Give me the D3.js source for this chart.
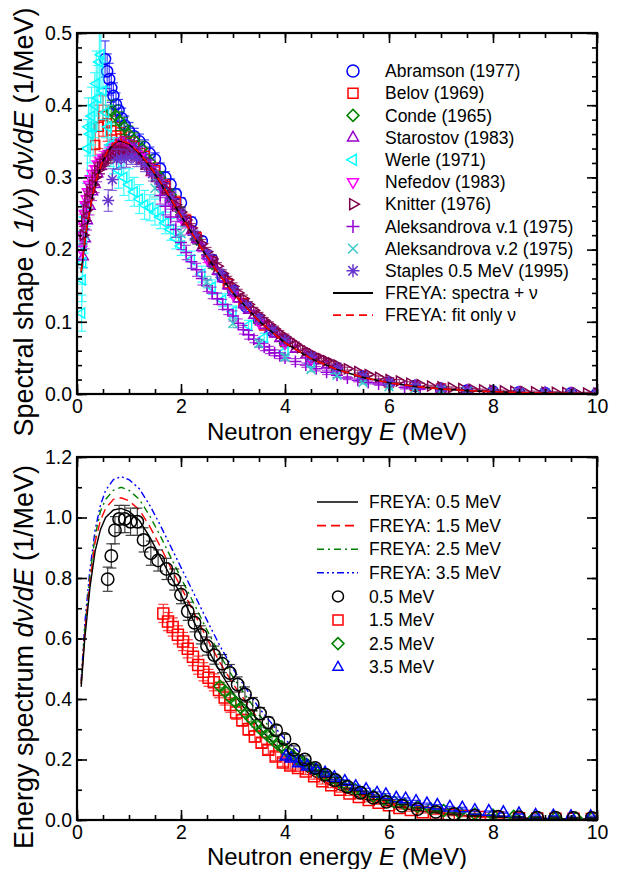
<!DOCTYPE html>
<html><head><meta charset="utf-8">
<script src="https://cdn.jsdelivr.net/npm/d3@7"></script>
<style>body{margin:0;background:#fff}svg{display:block}text{font-family:"Liberation Sans",Arial,sans-serif;fill:#000}</style>
</head><body><svg id="c" width="618" height="869"></svg>
<script>
// ---------------- DATA (top panel: spectral shape) ----------------
const curveE = [0.08,0.15,0.2,0.3,0.4,0.5,0.6,0.7,0.8,0.9,1.0,1.2,1.4,1.6,1.8,2.0,2.25,2.5,2.75,3.0,3.5,4.0,4.5,5.0,5.5,6.0,6.5,7.0,7.5,8.0,8.5,9.0,9.5,10.0];
const freyaSpectraNu = [0.168,0.21,0.235,0.275,0.303,0.323,0.337,0.346,0.350,0.349,0.346,0.333,0.315,0.293,0.270,0.247,0.218,0.190,0.164,0.140,0.101,0.071,0.049,0.034,0.023,0.0155,0.0105,0.007,0.0047,0.0031,0.0021,0.0014,0.0009,0.0006];
const freyaFitNu = [0.170,0.212,0.237,0.276,0.304,0.324,0.338,0.347,0.351,0.350,0.347,0.334,0.316,0.294,0.271,0.247,0.218,0.190,0.164,0.140,0.101,0.071,0.049,0.034,0.023,0.0155,0.0105,0.007,0.0047,0.0031,0.0021,0.0014,0.0009,0.0006];

// [E, value, error]
const abramson = [[0.54,.464,.025],[0.58,.447,.024],[0.62,.436,.022],[0.66,.424,.02],[0.70,.413,.018],[0.75,.401,.016],[0.80,.393,.015],[0.86,.382,.014],[0.92,.372,.013],[1.0,.364,.012],[1.1,.357,.011],[1.2,.350,.01],[1.3,.342,.01],[1.4,.333,.009],[1.5,.325,.009],[1.6,.312,.008],[1.7,.300,.008],[1.8,.290,.008],[1.9,.277,.007],[2.0,.265,.007],[2.2,.238,.007],[2.4,.212,.006],[2.6,.186,.006],[2.8,.162,.005],[3.0,.143,.005],[3.25,.121,.004],[3.5,.103,.004],[3.75,.087,.004],[4.0,.073,.003],[4.5,.051,.003],[5.0,.035,.002],[5.5,.024,.002],[6.0,.016,.002],[6.5,.011,.001],[7.0,.0075,.001],[7.5,.005,.001],[8.0,.0034,.001],[8.5,.0023,.001],[9.0,.0015,.001],[9.5,.001,.001],[10.0,.0007,.001]];
const belov = [[0.35,.345,.03],[0.42,.37,.03],[0.5,.385,.028],[0.58,.375,.025],[0.66,.365,.02],[0.75,.358,.018],[0.85,.354,.015],[0.95,.35,.013],[1.1,.344,.012],[1.3,.33,.01],[1.5,.31,.01],[1.7,.288,.009],[1.9,.266,.008],[2.1,.241,.008],[2.3,.217,.007],[2.6,.183,.006],[2.9,.153,.006],[3.2,.126,.005],[3.6,.095,.004],[4.0,.072,.004],[4.5,.05,.003],[5.0,.034,.003],[5.5,.023,.002],[6.0,.016,.002],[6.5,.011,.002],[7.0,.0075,.001]];
const conde = [[0.66,.392,.015],[0.74,.386,.014],[0.82,.378,.013],[0.9,.371,.012],[1.0,.36,.011],[1.1,.352,.01],[1.25,.34,.01],[1.4,.322,.009],[1.6,.3,.008],[1.8,.276,.008],[2.0,.252,.007],[2.3,.214,.006],[2.6,.18,.006],[3.0,.142,.005],[3.5,.1,.004],[4.0,.07,.003],[4.5,.048,.003],[5.0,.033,.002],[5.5,.022,.002],[6.0,.015,.002],[7.0,.0068,.001]];
const starostov = [[0.12,.19,.015],[0.16,.215,.014],[0.2,.24,.013],[0.25,.26,.012],[0.3,.28,.012],[0.35,.29,.011],[0.4,.305,.011],[0.45,.315,.01],[0.5,.322,.01],[0.6,.335,.01],[0.7,.342,.01],[0.8,.345,.01],[0.9,.346,.01],[1.0,.343,.009],[1.1,.339,.009],[1.2,.333,.009],[1.3,.325,.008],[1.4,.316,.008],[1.5,.306,.008],[1.6,.295,.008],[1.7,.284,.007],[1.8,.272,.007],[1.9,.260,.007],[2.0,.249,.007],[2.1,.237,.007],[2.2,.226,.006],[2.3,.214,.006],[2.4,.203,.006],[2.5,.192,.006],[2.6,.181,.006],[2.7,.170,.005],[2.8,.160,.005],[2.9,.150,.005],[3.0,.141,.005],[3.1,.132,.005],[3.2,.124,.005],[3.3,.116,.004],[3.4,.109,.004],[3.5,.102,.004],[3.6,.095,.004],[3.7,.089,.004],[3.8,.083,.004],[3.9,.077,.003],[4.0,.072,.003],[4.2,.062,.003],[4.4,.054,.003],[4.6,.046,.003],[4.8,.040,.003],[5.0,.035,.002],[5.5,.024,.002],[6.0,.016,.002],[6.5,.011,.002],[7.0,.0074,.001],[7.5,.005,.001],[8.0,.0034,.001],[8.5,.0023,.001],[9.0,.0016,.001],[9.5,.0011,.001],[10.0,.0008,.001]];
const werle = [[0.09,.112,.025],[0.10,.158,.03],[0.11,.182,.03],[0.12,.205,.03],[0.14,.225,.03],[0.16,.245,.03],[0.18,.262,.03],[0.2,.34,.04],[0.22,.37,.04],[0.25,.36,.04],[0.28,.385,.04],[0.31,.37,.04],[0.34,.40,.045],[0.37,.43,.045],[0.40,.41,.045],[0.43,.46,.045],[0.46,.47,.045],[0.5,.42,.04],[0.55,.39,.035],[0.6,.37,.03],[0.65,.345,.03],[0.7,.33,.025],[0.8,.31,.025],[0.9,.30,.025],[1.0,.29,.022],[1.1,.28,.02],[1.2,.27,.02],[1.3,.262,.02],[1.4,.258,.018],[1.5,.252,.018],[1.6,.245,.016],[1.7,.237,.015],[1.8,.228,.015],[1.9,.215,.014],[2.0,.205,.013],[2.2,.186,.012],[2.4,.166,.011],[2.6,.148,.01],[2.8,.13,.009],[3.0,.114,.008],[3.3,.095,.007],[3.6,.078,.006],[4.0,.059,.005],[4.5,.042,.004],[5.0,.029,.003],[5.5,.02,.003],[6.0,.013,.002]];
const nefedov = [[0.08,.2,.015],[0.1,.22,.015],[0.12,.235,.014],[0.14,.25,.014],[0.16,.262,.013],[0.18,.27,.013],[0.2,.28,.012],[0.23,.29,.012],[0.26,.298,.012],[0.3,.305,.011],[0.35,.312,.011],[0.4,.318,.01],[0.45,.322,.01],[0.5,.326,.01],[0.6,.333,.009],[0.7,.338,.009],[0.8,.34,.009],[0.9,.34,.009],[1.0,.338,.008],[1.2,.328,.008],[1.4,.31,.008],[1.6,.29,.007],[1.8,.267,.007],[2.0,.244,.006],[2.5,.187,.005],[3.0,.138,.004],[3.5,.099,.004],[4.0,.07,.003],[4.5,.048,.003],[5.0,.033,.002]];
const knitter = [[0.12,.22,.012],[0.15,.24,.012],[0.18,.255,.011],[0.21,.27,.011],[0.25,.28,.01],[0.3,.29,.01],[0.35,.3,.01],[0.4,.31,.01],[0.45,.315,.01],[0.5,.32,.009],[0.55,.325,.009],[0.6,.328,.009],[0.65,.33,.009],[0.7,.333,.009],[0.75,.335,.009],[0.8,.336,.009],[0.85,.337,.009],[0.9,.336,.009],[0.95,.335,.008],[1.0,.334,.008],[1.1,.331,.008],[1.2,.326,.008],[1.3,.319,.008],[1.4,.311,.008],[1.5,.302,.008],[1.6,.293,.007],[1.7,.284,.007],[1.8,.273,.007],[1.9,.262,.007],[2.0,.252,.007],[2.1,.241,.006],[2.2,.230,.006],[2.3,.219,.006],[2.4,.208,.006],[2.5,.197,.006],[2.6,.187,.006],[2.7,.177,.005],[2.8,.167,.005],[2.9,.158,.005],[3.0,.149,.005],[3.1,.140,.005],[3.2,.132,.005],[3.3,.124,.004],[3.4,.116,.004],[3.5,.109,.004],[3.6,.102,.004],[3.7,.096,.004],[3.8,.090,.004],[3.9,.084,.004],[4.0,.079,.004],[4.1,.074,.003],[4.2,.069,.003],[4.3,.064,.003],[4.4,.060,.003],[4.5,.056,.003],[4.6,.052,.003],[4.7,.049,.003],[4.8,.046,.003],[4.9,.043,.003],[5.0,.040,.003],[5.2,.035,.002],[5.4,.031,.002],[5.6,.027,.002],[5.8,.023,.002],[6.0,.020,.002],[6.2,.018,.002],[6.4,.015,.002],[6.6,.013,.002],[6.8,.011,.001],[7.0,.010,.001],[7.2,.0088,.001],[7.4,.0076,.001],[7.6,.0066,.001],[7.8,.0058,.001],[8.0,.0050,.001],[8.2,.0044,.001],[8.4,.0038,.001],[8.6,.0033,.001],[8.8,.0029,.001],[9.0,.0025,.001],[9.2,.0022,.001],[9.4,.0019,.001],[9.6,.0016,.001],[9.8,.0014,.001],[10.0,.0012,.001]];
const aleksandrova1 = [[1.6,.275,.012],[1.7,.26,.012],[1.8,.245,.011],[1.9,.228,.011],[2.0,.21,.01],[2.1,.196,.01],[2.2,.183,.009],[2.3,.172,.009],[2.4,.16,.009],[2.5,.15,.008],[2.6,.14,.008],[2.7,.132,.008],[2.8,.124,.007],[2.9,.117,.007],[3.0,.108,.007],[3.1,.098,.006],[3.2,.089,.006],[3.3,.082,.006],[3.4,.076,.005],[3.5,.07,.005],[3.6,.065,.005],[3.7,.061,.005],[3.8,.057,.004],[3.9,.053,.004],[4.0,.05,.004],[4.2,.045,.004],[4.4,.04,.003],[4.6,.035,.003],[4.8,.03,.003],[5.0,.026,.003],[5.2,.022,.002],[5.4,.019,.002],[5.6,.016,.002],[5.8,.014,.002],[6.0,.012,.002],[6.3,.009,.002],[6.6,.007,.001],[7.0,.005,.001],[7.5,.0035,.001],[8.0,.0025,.001],[8.5,.0018,.001],[9.0,.0012,.001],[9.5,.0009,.001],[10.0,.0006,.001]];
const aleksandrova2 = [[1.5,.285,.012],[2.0,.222,.01],[2.5,.155,.008],[3.0,.098,.006],[3.5,.07,.005],[4.0,.051,.004],[4.5,.034,.003],[5.0,.026,.003],[5.5,.016,.002],[6.0,.01,.002],[6.5,.0075,.001],[7.0,.005,.001],[7.5,.004,.001],[8.0,.003,.001],[8.5,.002,.001],[9.0,.0015,.001],[9.5,.001,.001],[10.0,.0008,.001]];
const staples = [[0.6,.268,.015],[0.68,.297,.015],[0.76,.325,.014],[0.85,.326,.013],[0.95,.326,.012],[1.05,.33,.012],[1.15,.326,.011],[1.3,.318,.01],[1.45,.305,.01],[1.6,.292,.009],[1.8,.27,.008],[2.0,.248,.008],[2.25,.22,.007],[2.5,.193,.006],[2.75,.167,.006],[3.0,.143,.005],[3.25,.122,.005],[3.5,.104,.004],[3.75,.088,.004],[4.0,.074,.003],[4.5,.052,.003],[5.0,.036,.002],[5.5,.025,.002],[6.0,.017,.002],[6.5,.012,.001],[7.0,.008,.001],[7.5,.0055,.001],[8.0,.0037,.001],[8.5,.0026,.001],[9.0,.0018,.001],[9.5,.0013,.001],[10.0,.0009,.001]];

const topLegendLabels = ["Abramson (1977)","Belov (1969)","Conde (1965)","Starostov (1983)","Werle (1971)","Nefedov (1983)","Knitter (1976)","Aleksandrova v.1 (1975)","Aleksandrova v.2 (1975)","Staples 0.5 MeV (1995)","FREYA: spectra + \u03bd","FREYA: fit only \u03bd"];

// ---------------- DATA (bottom panel: energy spectrum) ----------------
const bottomE = [0.08,0.15,0.25,0.35,0.45,0.55,0.7,0.85,1.0,1.2,1.4,1.6,1.8,2.0,2.25,2.5,2.75,3.0,3.5,4.0,4.5,5.0,5.5,6.0,6.5,7.0,7.5,8.0,8.5,9.0,9.5,10.0];
const freya05 = [0.44,0.60,0.77,0.89,0.96,1.0,1.025,1.03,1.02,0.99,0.935,0.87,0.805,0.745,0.655,0.57,0.49,0.42,0.305,0.215,0.15,0.103,0.07,0.047,0.032,0.021,0.014,0.0095,0.0063,0.0042,0.0028,0.0019];
const freya15 = [0.45,0.62,0.79,0.92,0.99,1.03,1.06,1.065,1.055,1.025,0.97,0.905,0.835,0.77,0.685,0.6,0.52,0.45,0.33,0.235,0.165,0.115,0.078,0.053,0.036,0.024,0.016,0.011,0.0073,0.0049,0.0033,0.0022];
const freya25 = [0.45,0.63,0.81,0.94,1.02,1.06,1.09,1.10,1.09,1.06,1.005,0.94,0.87,0.80,0.715,0.628,0.545,0.472,0.348,0.25,0.177,0.124,0.085,0.058,0.039,0.027,0.018,0.012,0.0082,0.0055,0.0037,0.0025];
const freya35 = [0.46,0.65,0.83,0.96,1.04,1.09,1.125,1.135,1.125,1.095,1.04,0.975,0.905,0.835,0.748,0.66,0.575,0.50,0.37,0.266,0.19,0.133,0.092,0.063,0.043,0.029,0.02,0.0135,0.0092,0.0062,0.0042,0.0028];

const meas05 = [[0.59,.796,.04],[0.66,.873,.04],[0.73,.958,.045],[0.81,.995,.045],[0.92,.995,.045],[1.03,.986,.045],[1.16,.986,.045],[1.28,.926,.04],[1.42,.882,.04],[1.56,.858,.035],[1.72,.83,.035],[1.87,.795,.035],[2.0,.745,.03],[2.13,.69,.03],[2.26,.652,.03],[2.38,.612,.03],[2.5,.575,.03],[2.64,.545,.03],[2.79,.517,.03],[2.94,.486,.028],[3.09,.448,.025],[3.23,.415,.025],[3.38,.383,.022],[3.52,.352,.02],[3.68,.322,.018],[3.83,.297,.016],[3.99,.268,.015],[4.17,.232,.013],[4.38,.2,.012],[4.58,.172,.01],[4.78,.15,.009],[4.97,.132,.008],[5.2,.11,.007],[5.45,.09,.006],[5.7,.073,.005],[5.95,.06,.005],[6.25,.047,.004],[6.55,.036,.004],[6.9,.027,.003],[7.25,.02,.003],[7.65,.014,.002],[8.1,.011,.002],[8.5,.009,.002],[8.85,.008,.002],[9.2,.008,.002],[9.55,.007,.002],[9.9,.007,.002]];
const meas15 = [[1.66,.683,.03],[1.75,.656,.03],[1.84,.638,.03],[1.94,.612,.03],[2.04,.59,.03],[2.13,.566,.03],[2.23,.54,.03],[2.33,.512,.03],[2.43,.49,.03],[2.53,.47,.028],[2.63,.455,.028],[2.73,.43,.026],[2.84,.405,.025],[2.95,.38,.024],[3.06,.355,.022],[3.18,.33,.02],[3.3,.3,.02],[3.42,.276,.018],[3.55,.255,.016],[3.68,.232,.015],[3.82,.21,.014],[3.96,.19,.013],[4.1,.18,.012],[4.25,.172,.011],[4.4,.16,.01],[4.56,.145,.01],[4.72,.128,.009],[4.89,.115,.008],[5.06,.1,.008],[5.24,.088,.007],[5.42,.076,.006],[5.61,.066,.006],[5.8,.057,.005],[6.0,.049,.005],[6.2,.04,.004],[6.42,.033,.004],[6.65,.026,.003],[6.9,.021,.003],[7.15,.017,.003],[7.45,.013,.002],[7.75,.01,.002],[8.1,.008,.002],[8.5,.006,.002],[8.85,.005,.002],[9.2,.004,.002],[9.55,.004,.002],[9.9,.003,.002]];
const meas25 = [[2.75,.442,.012],[2.85,.425,.012],[2.95,.405,.011],[3.05,.39,.011],[3.15,.372,.01],[3.25,.352,.01],[3.35,.335,.01],[3.45,.316,.009],[3.55,.298,.009],[3.65,.282,.009],[3.75,.268,.008],[3.85,.252,.008],[3.95,.238,.008],[4.05,.225,.007],[4.15,.212,.007],[4.25,.2,.007],[4.35,.19,.006],[4.45,.18,.006],[4.55,.17,.006],[4.65,.16,.006],[4.75,.15,.005],[4.9,.138,.005],[5.05,.125,.005],[5.2,.112,.004],[5.35,.1,.004],[5.5,.09,.004],[5.7,.079,.004],[5.9,.069,.003],[6.1,.06,.003],[6.3,.052,.003],[6.55,.044,.003],[6.8,.037,.003],[7.05,.031,.002],[7.35,.025,.002],[7.65,.02,.002],[8.0,.016,.002],[8.4,.012,.002],[8.8,.009,.002],[9.2,.007,.002],[9.6,.006,.002],[9.9,.005,.002]];
const meas35 = [[4.02,.21,.008],[4.12,.204,.008],[4.26,.188,.007],[4.43,.177,.007],[4.6,.166,.007],[4.77,.155,.006],[4.95,.14,.006],[5.15,.127,.006],[5.36,.11,.005],[5.56,.1,.005],[5.77,.088,.005],[5.94,.083,.004],[6.14,.072,.004],[6.32,.069,.004],[6.52,.061,.004],[6.73,.053,.003],[6.93,.048,.003],[7.17,.042,.003],[7.41,.039,.003],[7.65,.031,.003],[7.92,.028,.002],[8.2,.024,.002],[8.5,.02,.002],[8.82,.015,.002],[9.16,.013,.002],[9.5,.011,.002],[9.88,.011,.002]];

const bottomLegendLabels = ["FREYA: 0.5 MeV","FREYA: 1.5 MeV","FREYA: 2.5 MeV","FREYA: 3.5 MeV","0.5 MeV","1.5 MeV","2.5 MeV","3.5 MeV"];

const xMajorTicks = [0,2,4,6,8,10];
const topYMajorTicks = [0,0.1,0.2,0.3,0.4,0.5];
const bottomYMajorTicks = [0,0.2,0.4,0.6,0.8,1.0,1.2];

// ---------------- DRAWING ----------------
const svg = d3.select("#c");
const FONT = "'Liberation Sans', Arial, sans-serif";
const X0 = 77, X1 = 597;
const TICK_FONT = 19.5, XTITLE_FONT = 24, YTITLE_FONT = 27, LEG_FONT = 17.5;

function shapePath(type, s) {
  switch (type) {
    case "square": return `M${-s},${-s}H${s}V${s}H${-s}Z`;
    case "diamond": { const d = s * 1.2; return `M0,${-d}L${d},0L0,${d}L${-d},0Z`; }
    case "triUp": return `M0,${-s*1.15}L${s},${s*0.6}L${-s},${s*0.6}Z`;
    case "triDown": return `M0,${s*1.15}L${s},${-s*0.6}L${-s},${-s*0.6}Z`;
    case "triLeft": return `M${-s*1.15},0L${s*0.6},${-s}L${s*0.6},${s}Z`;
    case "triRight": return `M${s*1.15},0L${-s*0.6},${-s}L${-s*0.6},${s}Z`;
    case "plus": return `M${-s},0H${s}M0,${-s}V${s}`;
    case "cross": { const d = s * 0.75; return `M${-d},${-d}L${d},${d}M${-d},${d}L${d},${-d}`; }
    case "star": { const d = s * 0.72; return `M${-s},0H${s}M0,${-s}V${s}M${-d},${-d}L${d},${d}M${-d},${d}L${d},${-d}`; }
    default: return "";
  }
}
function drawSymbol(g, type, cx, cy, s, color, sw) {
  if (type === "circle") {
    g.append("circle").attr("cx", cx).attr("cy", cy).attr("r", s)
      .attr("fill", "none").attr("stroke", color).attr("stroke-width", sw);
  } else {
    g.append("path").attr("d", shapePath(type, s)).attr("transform", `translate(${cx},${cy})`)
      .attr("fill", "none").attr("stroke", color).attr("stroke-width", sw);
  }
}

function makePanel(opts) {
  const x = d3.scaleLinear().domain([0, 10]).range([X0, X1]);
  const y = d3.scaleLinear().domain([0, opts.yMax]).range([opts.yBottom, opts.yTop]);
  const g = svg.append("g");
  const clipId = "clip" + opts.id;
  svg.append("defs").append("clipPath").attr("id", clipId)
    .append("rect").attr("x", X0).attr("y", opts.yTop).attr("width", X1 - X0).attr("height", opts.yBottom - opts.yTop);
  const plot = g.append("g").attr("clip-path", `url(#${clipId})`);

  const xMinor = d3.range(0, 10.001, 0.5);
  const yMinor = d3.range(0, opts.yMax + 1e-9, opts.yMinorStep);
  const style = sel => { sel.select(".domain").remove(); sel.selectAll("line").attr("stroke", "#000").attr("stroke-width", 1.6); };
  g.append("g").attr("transform", `translate(0,${opts.yBottom})`)
    .call(d3.axisBottom(x).tickValues(xMinor).tickSize(-5).tickFormat("")).call(style);
  g.append("g").attr("transform", `translate(0,${opts.yTop})`)
    .call(d3.axisTop(x).tickValues(xMinor).tickSize(-5).tickFormat("")).call(style);
  g.append("g").attr("transform", `translate(${X0},0)`)
    .call(d3.axisLeft(y).tickValues(yMinor).tickSize(-5).tickFormat("")).call(style);
  g.append("g").attr("transform", `translate(${X1},0)`)
    .call(d3.axisRight(y).tickValues(yMinor).tickSize(-5).tickFormat("")).call(style);
  const xb = g.append("g").attr("transform", `translate(0,${opts.yBottom})`)
    .call(d3.axisBottom(x).tickValues(xMajorTicks).tickSize(-10).tickPadding(5).tickFormat(d3.format("d"))).call(style);
  g.append("g").attr("transform", `translate(0,${opts.yTop})`)
    .call(d3.axisTop(x).tickValues(xMajorTicks).tickSize(-10).tickFormat("")).call(style);
  const yl = g.append("g").attr("transform", `translate(${X0},0)`)
    .call(d3.axisLeft(y).tickValues(opts.yMajor).tickSize(-10).tickPadding(5).tickFormat(d3.format(".1f"))).call(style);
  g.append("g").attr("transform", `translate(${X1},0)`)
    .call(d3.axisRight(y).tickValues(opts.yMajor).tickSize(-10).tickFormat("")).call(style);
  [xb, yl].forEach(a => { a.attr("font-family", FONT).attr("font-size", TICK_FONT);
    a.selectAll("text").attr("font-size", TICK_FONT).attr("font-family", FONT).attr("fill", "#000"); });

  g.append("rect").attr("x", X0).attr("y", opts.yTop).attr("width", X1 - X0).attr("height", opts.yBottom - opts.yTop)
    .attr("fill", "none").attr("stroke", "#000").attr("stroke-width", 2.2);

  const xt = g.append("text").attr("x", (X0 + X1) / 2).attr("y", opts.xTitleY)
    .attr("text-anchor", "middle").attr("font-size", XTITLE_FONT).attr("font-family", FONT);
  xt.append("tspan").text("Neutron energy ");
  xt.append("tspan").attr("font-style", "italic").text("E");
  xt.append("tspan").text(" (MeV)");

  const yt = g.append("text").attr("transform", `translate(33,${opts.yTitleCenter}) rotate(-90)`)
    .attr("text-anchor", "middle").attr("font-size", YTITLE_FONT).attr("font-family", FONT);
  opts.yTitleParts.forEach(p => yt.append("tspan").attr("font-style", p[1] ? "italic" : "normal").text(p[0]));

  return { x, y, plot, g };
}

function drawSeries(P, data, type, color, s, capW) {
  const eg = P.plot.append("g").attr("stroke", color).attr("stroke-width", 1.2).attr("opacity", 0.75);
  data.forEach(d => {
    const cx = P.x(d[0]), y1 = P.y(d[1] - d[2]), y2 = P.y(d[1] + d[2]);
    eg.append("line").attr("x1", cx).attr("x2", cx).attr("y1", y1).attr("y2", y2);
    eg.append("line").attr("x1", cx - capW).attr("x2", cx + capW).attr("y1", y1).attr("y2", y1);
    eg.append("line").attr("x1", cx - capW).attr("x2", cx + capW).attr("y1", y2).attr("y2", y2);
  });
  const sg = P.plot.append("g");
  data.forEach(d => drawSymbol(sg, type, P.x(d[0]), P.y(d[1]), s, color, 1.5));
}
function drawCurve(P, xs, ys, color, dash, w) {
  const pts = xs.map((e, i) => [e, ys[i]]);
  P.plot.append("path").datum(pts)
    .attr("d", d3.line().x(d => P.x(d[0])).y(d => P.y(d[1])))
    .attr("fill", "none").attr("stroke", color).attr("stroke-width", w)
    .attr("stroke-dasharray", dash || null);
}

// ----- top panel -----
const T = makePanel({ id: "t", yTop: 33, yBottom: 394, yMax: 0.5, yMinorStep: 0.02, yMajor: topYMajorTicks,
  xTitleY: 440, yTitleCenter: 222,
  yTitleParts: [["Spectral shape ( ", false], ["1/\u03bd", true], [") ", false], ["d\u03bd/dE", true], [" (1/MeV)", false]] });

const topSeries = [
  [abramson, "circle", "#0000ff", 5.5],
  [belov, "square", "#ff0000", 4.5],
  [conde, "diamond", "#008000", 4.5],
  [starostov, "triUp", "#9900cc", 5],
  [werle, "triLeft", "#00ffff", 5],
  [nefedov, "triDown", "#ff00ff", 5],
  [knitter, "triRight", "#80004a", 5],
  [aleksandrova1, "plus", "#9400d3", 6],
  [aleksandrova2, "cross", "#3cc8c8", 6],
  [staples, "star", "#6633cc", 6]
];
topSeries.forEach(s => drawSeries(T, s[0], s[1], s[2], s[3], 4.5));
drawCurve(T, curveE, freyaSpectraNu, "#000", null, 1.6);
drawCurve(T, curveE, freyaFitNu, "#ff0000", "8,5", 1.6);

const tl = svg.append("g");
topLegendLabels.forEach((lab, i) => {
  const yy = 71 + i * 22.2;
  if (i < 10) {
    const s = topSeries[i];
    drawSymbol(tl, s[1], 353, yy, s[3] === 5.5 ? 6 : s[3] + 0.5, s[2], 1.5);
  } else {
    tl.append("line").attr("x1", 333).attr("x2", 373).attr("y1", yy).attr("y2", yy)
      .attr("stroke", i === 10 ? "#000" : "#ff0000").attr("stroke-width", 1.8)
      .attr("stroke-dasharray", i === 10 ? null : "8,5");
  }
  tl.append("text").attr("x", 385).attr("y", yy).attr("dy", "0.35em").attr("font-size", LEG_FONT).attr("font-family", FONT).text(lab);
});

// ----- bottom panel -----
const B = makePanel({ id: "b", yTop: 457, yBottom: 820, yMax: 1.2, yMinorStep: 0.1, yMajor: bottomYMajorTicks,
  xTitleY: 864.5, yTitleCenter: 657,
  yTitleParts: [["Energy spectrum ", false], ["d\u03bd/dE", true], [" (1/MeV)", false]] });

const bottomSeries = [
  [meas15, "square", "#ff0000", 5.5],
  [meas25, "diamond", "#008000", 5],
  [meas35, "triUp", "#0000ff", 6],
  [meas05, "circle", "#000000", 6.2]
];
const bottomCurves = [
  [freya05, "#000", null],
  [freya15, "#ff0000", "9,5"],
  [freya25, "#008000", "7,4,2,4"],
  [freya35, "#0000ff", "7,3,2,3,2,3"]
];
bottomCurves.slice().reverse().forEach(c => drawCurve(B, bottomE, c[0], c[1], c[2], 1.4));
bottomSeries.forEach(s => drawSeries(B, s[0], s[1], s[2], s[3], 5));

const bl = svg.append("g");
bottomLegendLabels.forEach((lab, i) => {
  const yy = 502 + i * 23.6;
  if (i < 4) {
    bl.append("line").attr("x1", 317).attr("x2", 358).attr("y1", yy).attr("y2", yy)
      .attr("stroke", bottomCurves[i][1]).attr("stroke-width", 1.6)
      .attr("stroke-dasharray", bottomCurves[i][2]);
  } else {
    const map = { 4: bottomSeries[3], 5: bottomSeries[0], 6: bottomSeries[1], 7: bottomSeries[2] };
    const s = map[i];
    drawSymbol(bl, s[1], 338, yy, s[1] === "circle" ? 5.5 : 5, s[2], 1.5);
  }
  bl.append("text").attr("x", 369).attr("y", yy).attr("dy", "0.35em").attr("font-size", LEG_FONT).attr("font-family", FONT).text(lab);
});
</script></body></html>
